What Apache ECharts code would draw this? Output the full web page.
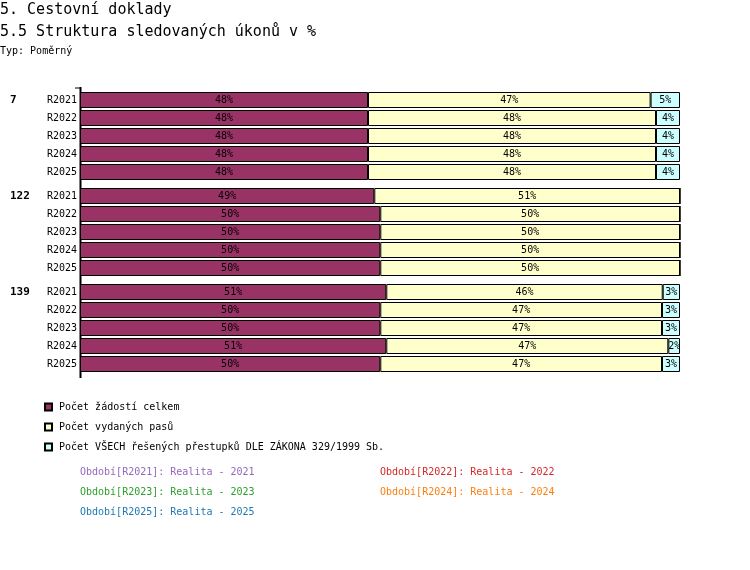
<!DOCTYPE html>
<html>
<head>
<meta charset="utf-8">
<script src="https://cdn.jsdelivr.net/npm/echarts@6/dist/echarts.min.js"></script>
<style>html,body{margin:0;padding:0;background:#fff}#c{width:750px;height:570px}</style>
</head>
<body>
<div id="c"></div>
<script>
const categories = ['R2021', 'R2022', 'R2023', 'R2024', 'R2025'];
const groups = ['7', '122', '139'];
const seriesNames = ['Počet žádostí celkem', 'Počet vydaných pasů', 'Počet VŠECH řešených přestupků DLE ZÁKONA 329/1999 Sb.'];
const seriesColors = ['#993366', '#FFFFCC', '#CCFFFF'];
const zadosti = [
  [48.0, 48.0, 48.0, 48.0, 48.0],
  [49.05, 50.05, 50.05, 50.05, 50.05],
  [51.05, 50.05, 50.05, 51.05, 50.05]
];
const pasy = [
  [47.1, 48.0, 48.0, 48.0, 48.0],
  [50.95, 49.95, 49.95, 49.95, 49.95],
  [46.07, 46.95, 46.95, 47.0, 46.95]
];
const prestupky = [
  [4.9, 4.0, 4.0, 4.0, 4.0],
  [0, 0, 0, 0, 0],
  [2.88, 3.0, 3.0, 1.95, 3.0]
];
const periods = [
  'Období[R2021]: Realita - 2021',
  'Období[R2022]: Realita - 2022',
  'Období[R2023]: Realita - 2023',
  'Období[R2024]: Realita - 2024',
  'Období[R2025]: Realita - 2025'
];
const periodColors = ['#9467bd', '#d62728', '#2ca02c', '#ff7f0e', '#1f77b4'];

const FONT = '"DejaVu Sans Mono", monospace';
const values = [zadosti, pasy, prestupky];

const grids = [], xAxes = [], yAxes = [], series = [], graphics = [];
groups.forEach((g, gi) => {
  const top = 91 + gi * 96;
  grids.push({ left: 80, width: 600, top: top, height: 90 });
  xAxes.push({ type: 'value', gridIndex: gi, min: 0, max: 100, show: false });
  yAxes.push({
    type: 'category', gridIndex: gi, data: categories, inverse: true,
    axisLine: { show: false }, axisTick: { show: false }, splitLine: { show: false },
    axisLabel: { color: '#000', fontFamily: FONT, fontSize: 10, margin: 3 }
  });
  seriesNames.forEach((name, si) => {
    series.push({
      type: 'bar', name: name, xAxisIndex: gi, yAxisIndex: gi, stack: 'g' + gi,
      barWidth: 16,
      data: values[si][gi],
      itemStyle: { color: seriesColors[si], borderColor: '#000', borderWidth: 1 },
      label: {
        show: true, position: 'inside', color: '#000', fontFamily: FONT, fontSize: 10,
        formatter: p => p.value > 0 ? Math.round(p.value) + '%' : ''
      },
      emphasis: { disabled: true },
      animation: false
    });
  });
  graphics.push({
    type: 'text', left: 10, top: top + 4,
    style: { text: g, font: 'bold 11px ' + FONT, fill: '#000' }
  });
});

graphics.push({ type: 'line', shape: { x1: 80.5, y1: 87, x2: 80.5, y2: 378 }, style: { stroke: '#000', lineWidth: 2 } });
graphics.push({ type: 'line', shape: { x1: 75, y1: 88, x2: 80, y2: 88 }, style: { stroke: '#000', lineWidth: 1 } });

const periodPos = [[80, 467], [380, 467], [80, 487], [380, 487], [80, 507]];
periods.forEach((t, i) => {
  graphics.push({
    type: 'text', left: periodPos[i][0], top: periodPos[i][1],
    style: { text: t, font: '10px ' + FONT, fill: periodColors[i] }
  });
});

const chart = echarts.init(document.getElementById('c'));
chart.setOption({
  backgroundColor: '#fff',
  animation: false,
  title: [
    { text: '5. Cestovní doklady', left: 0, top: 2, padding: 0, textStyle: { fontFamily: FONT, fontSize: 15, fontWeight: 'normal', color: '#000', lineHeight: 16 } },
    { text: '5.5 Struktura sledovaných úkonů v %', left: 0, top: 24, padding: 0, textStyle: { fontFamily: FONT, fontSize: 15, fontWeight: 'normal', color: '#000', lineHeight: 16 } },
    { text: 'Typ: Poměrný', left: 0, top: 45, padding: 0, textStyle: { fontFamily: FONT, fontSize: 10, fontWeight: 'normal', color: '#000', lineHeight: 12 } }
  ],
  legend: {
    data: seriesNames, orient: 'vertical', left: 44, top: 401, padding: 0,
    icon: 'rect', itemWidth: 7, itemHeight: 7, itemGap: 8,
    textStyle: { fontFamily: FONT, fontSize: 10, color: '#000', lineHeight: 12, padding: [0, 0, 0, 2] },
    selectedMode: false
  },
  grid: grids,
  xAxis: xAxes,
  yAxis: yAxes,
  series: series,
  graphic: graphics
});
</script>
</body>
</html>
